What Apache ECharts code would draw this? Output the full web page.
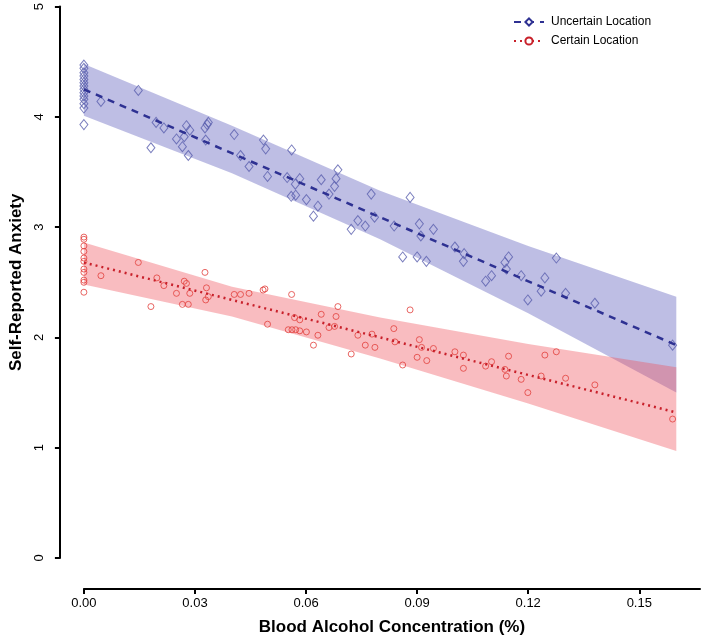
<!DOCTYPE html>
<html>
<head>
<meta charset="utf-8">
<script src="https://cdn.jsdelivr.net/npm/echarts@6/dist/echarts.min.js"></script>
<style>html,body{margin:0;padding:0;background:#fff;}#c{width:704px;height:641px;}</style>
</head>
<body>
<div id="c"></div>
<script>
// ---- data ----
const xTicks = [0, 0.03, 0.06, 0.09, 0.12, 0.15];
const yTicks = [0, 1, 2, 3, 4, 5];

const uncertainX = [0,0,0,0,0,0,0,0,0,0,0,0,0,0,
  0.0046,0.0147,0.0181,0.0195,0.0216,0.0250,0.0266,0.0271,0.0277,0.0282,0.0286,0.0327,0.0333,0.0336,0.0329,
  0.0406,0.0423,0.0446,0.0485,0.0491,0.0496,0.0561,0.0549,0.0571,0.0583,0.0560,0.0572,0.0601,0.0620,0.0632,
  0.0641,0.0662,0.0677,0.0681,0.0686,0.0722,0.0740,0.0760,0.0776,0.0785,0.0838,0.0861,0.0881,0.0900,0.0906,
  0.0910,0.0925,0.0944,0.1002,0.1025,0.1027,0.1085,0.1101,0.1137,0.1147,0.1141,0.1181,0.1199,0.1235,0.1245,
  0.1276,0.1301,0.1380,0.1590];
const uncertainY = [4.47,4.44,4.40,4.37,4.34,4.31,4.28,4.25,4.22,4.19,4.16,4.12,4.08,3.93,
  4.14,4.24,3.72,3.95,3.90,3.80,3.73,3.82,3.92,3.65,3.88,3.90,3.93,3.95,3.79,
  3.84,3.65,3.55,3.79,3.71,3.46,3.70,3.45,3.39,3.44,3.28,3.29,3.25,3.10,3.19,
  3.43,3.30,3.37,3.44,3.52,2.98,3.06,3.01,3.30,3.09,3.01,2.73,3.27,2.73,3.03,
  2.92,2.69,2.98,2.82,2.69,2.76,2.51,2.56,2.68,2.73,2.62,2.56,2.34,2.42,2.54,
  2.72,2.40,2.31,1.93];

const certainX = [0,0,0,0,0,0,0,0,0,0,0,
  0.0046,0.0147,0.0181,0.0197,0.0216,0.0250,0.0266,0.0271,0.0277,0.0282,0.0286,0.0327,0.0331,0.0336,0.0329,
  0.0406,0.0423,0.0446,0.0484,0.0489,0.0496,0.0561,0.0552,0.0562,0.0572,0.0583,0.0569,0.0583,0.0601,0.0620,
  0.0632,0.0641,0.0662,0.0677,0.0681,0.0686,0.0722,0.0740,0.0760,0.0778,0.0786,0.0837,0.0840,0.0861,0.0881,
  0.0900,0.0906,0.0912,0.0926,0.0944,0.1002,0.1025,0.1025,0.1085,0.1101,0.1137,0.1141,0.1147,0.1181,0.1199,
  0.1235,0.1245,0.1276,0.1301,0.1380,0.1590];
const certainY = [2.91,2.89,2.83,2.78,2.72,2.69,2.62,2.59,2.52,2.50,2.41,
  2.56,2.68,2.28,2.54,2.47,2.40,2.30,2.51,2.49,2.30,2.40,2.59,2.45,2.37,2.34,
  2.39,2.39,2.40,2.43,2.44,2.12,2.39,2.07,2.07,2.07,2.06,2.18,2.16,2.05,1.93,
  2.02,2.21,2.09,2.10,2.19,2.28,1.85,2.02,1.93,2.03,1.91,2.08,1.96,1.75,2.25,
  1.82,1.98,1.91,1.79,1.90,1.87,1.84,1.72,1.74,1.78,1.71,1.65,1.83,1.62,1.50,
  1.65,1.84,1.87,1.63,1.57,1.26];

// regression fits and confidence bands
const fitX = [0, 0.16];
const uncertainFit = [4.25, 1.93];
const certainFit = [2.68, 1.32];
const bandX = [0, 0.04, 0.08, 0.12, 0.16];
const uncertainUpper = [4.48, 3.92, 3.33, 2.83, 2.37];
const uncertainLower = [4.01, 3.49, 2.89, 2.22, 1.50];
const certainUpper = [2.86, 2.46, 2.18, 1.94, 1.73];
const certainLower = [2.48, 2.19, 1.81, 1.40, 0.97];

// ---- chart ----
const FONT = "'Liberation Sans', Arial, sans-serif";
const chart = echarts.init(document.getElementById('c'), null, {renderer: 'canvas'});

function pairs(xs, ys) { return xs.map((x, i) => [x, ys[i]]); }

function bandSeries(name, upper, lower, fill, z) {
  return {
    type: 'custom', name: name, silent: true, z: z,
    data: [[0, 0]],
    encode: {x: 0, y: 1},
    renderItem: function (params, api) {
      const pts = [];
      for (let i = 0; i < bandX.length; i++) pts.push(api.coord([bandX[i], upper[i]]));
      for (let i = bandX.length - 1; i >= 0; i--) pts.push(api.coord([bandX[i], lower[i]]));
      return {type: 'polygon', shape: {points: pts}, style: {fill: fill}};
    }
  };
}

const BLUE_LINE = '#2E3192';
const BLUE_PT = '#5A5FAE';
const RED_LINE = '#C8202A';
const RED_PT = '#E2403C';

chart.setOption({
  animation: false,
  backgroundColor: '#fff',
  textStyle: {fontFamily: FONT},
  grid: {left: 82, right: 4, top: 6, bottom: 82, containLabel: false},
  xAxis: {
    type: 'value', min: 0, max: 0.1664,
    offset: 31,
    axisLine: {show: true, onZero: false, lineStyle: {color: '#000', width: 2}},
    axisTick: {show: true, length: 5, customValues: xTicks, lineStyle: {color: '#000', width: 2}},
    axisLabel: {show: true, customValues: xTicks, margin: 8, fontSize: 13, color: '#000', fontFamily: FONT,
      formatter: v => v.toFixed(2)},
    splitLine: {show: false},
    name: 'Blood Alcohol Concentration (%)', nameLocation: 'middle', nameGap: 30,
    nameTextStyle: {fontSize: 17, fontWeight: 'bold', color: '#000', fontFamily: FONT}
  },
  yAxis: {
    type: 'value', min: 0, max: 5, interval: 1,
    offset: 24,
    axisLine: {show: true, onZero: false, lineStyle: {color: '#000', width: 2}},
    axisTick: {show: true, length: 5, lineStyle: {color: '#000', width: 2}},
    axisLabel: {show: true, rotate: 90, margin: 14, fontSize: 13, color: '#000', fontFamily: FONT,
      formatter: v => String(v)},
    splitLine: {show: false},
    name: 'Self-Reported Anxiety', nameLocation: 'middle', nameGap: 34,
    nameTextStyle: {fontSize: 17, fontWeight: 'bold', color: '#000', fontFamily: FONT}
  },
  legend: {
    orient: 'vertical', left: 508, top: 11, itemWidth: 30, itemHeight: 9, itemGap: 7,
    textStyle: {fontSize: 12, color: '#000', fontFamily: FONT, padding: [0, 0, 0, 2]},
    data: ['Uncertain Location', 'Certain Location']
  },
  series: [
    bandSeries('uBand', uncertainUpper, uncertainLower, 'rgba(100,100,190,0.42)', 1),
    bandSeries('cBand', certainUpper, certainLower, 'rgba(240,80,90,0.38)', 2),
    {
      type: 'scatter', name: 'uPts', z: 3, symbol: 'diamond', symbolSize: [8, 10],
      data: pairs(uncertainX, uncertainY),
      itemStyle: {color: 'rgba(0,0,0,0)', borderColor: BLUE_PT, borderWidth: 1}
    },
    {
      type: 'scatter', name: 'cPts', z: 3, symbol: 'circle', symbolSize: 6,
      data: pairs(certainX, certainY),
      itemStyle: {color: 'rgba(0,0,0,0)', borderColor: RED_PT, borderWidth: 1}
    },
    {
      type: 'line', name: 'Uncertain Location', z: 4, symbol: 'emptyDiamond', symbolSize: [8, 10],
      showSymbol: false, data: pairs(fitX, uncertainFit),
      itemStyle: {color: BLUE_LINE},
      lineStyle: {color: BLUE_LINE, width: 2.5, type: [7, 6]}
    },
    {
      type: 'line', name: 'Certain Location', z: 4, symbol: 'emptyCircle', symbolSize: 6,
      showSymbol: false, data: pairs(fitX, certainFit),
      itemStyle: {color: RED_LINE},
      lineStyle: {color: RED_LINE, width: 2.5, type: [2, 4]}
    }
  ]
});
</script>
</body>
</html>
